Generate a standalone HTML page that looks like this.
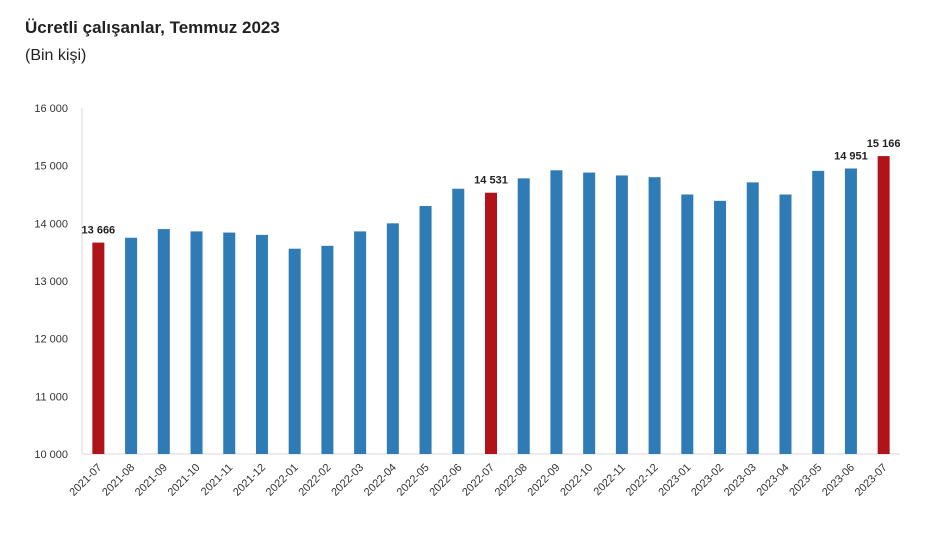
<!DOCTYPE html>
<html><head><meta charset="utf-8"><style>
body{margin:0;background:#fff;width:925px;height:533px;overflow:hidden;font-family:"Liberation Sans",sans-serif}
</style></head><body>
<svg width="925" height="533">
<text x="25" y="33" font-size="17" font-weight="bold" fill="#222">Ücretli çalışanlar, Temmuz 2023</text>
<text x="25" y="60" font-size="16" fill="#222">(Bin kişi)</text>
<g id="plot"></g>
</svg>
<script>
const categories=["2021-07","2021-08","2021-09","2021-10","2021-11","2021-12","2022-01","2022-02","2022-03","2022-04","2022-05","2022-06","2022-07","2022-08","2022-09","2022-10","2022-11","2022-12","2023-01","2023-02","2023-03","2023-04","2023-05","2023-06","2023-07"];
const values=[13666,13750,13900,13860,13840,13800,13560,13610,13860,14000,14300,14600,14531,14780,14920,14880,14830,14800,14500,14390,14710,14500,14910,14951,15166];
const highlighted=["2021-07","2022-07","2023-07"];
const labeled=["2021-07","2022-07","2023-06","2023-07"];
const yTicks=[10000,11000,12000,13000,14000,15000,16000];
const NS="http://www.w3.org/2000/svg";
const g=document.getElementById('plot');
const x0=82,x1=900,yTop=108,yBot=454,ymin=10000,ymax=16000;
const bw=(x1-x0)/categories.length;
function xs(i){return x0+bw*(i+0.5);}
function ys(v){return yBot-(v-ymin)/(ymax-ymin)*(yBot-yTop);}
function mk(t,a,txt){const e=document.createElementNS(NS,t);for(const k in a)e.setAttribute(k,a[k]);if(txt!==undefined)e.textContent=txt;g.appendChild(e);return e;}
yTicks.forEach(v=>{
 const t=mk('text',{x:68,y:ys(v)+4,'text-anchor':'end','font-size':11,fill:'#333'},String(v).replace(/\B(?=(\d{3})+$)/g,' '));
 
 
});
const ax=mk('line',{x1:x0,x2:x0,y1:yTop,y2:yBot,stroke:'#d9d9d9'});


const bx=mk('line',{x1:x0,x2:x1,y1:yBot,y2:yBot,stroke:'#d9d9d9'});


categories.forEach((c,i)=>{
 const v=values[i],hl=highlighted.includes(c);
 const r=mk('rect',{x:xs(i)-6,y:ys(v),width:12,height:yBot-ys(v),fill:hl?'#b01419':'#2e7bb6'});
 
 
 const cx=xs(i),cy=yBot+10;
 const t=mk('text',{x:cx+4,y:cy+4,'text-anchor':'end','font-size':11,fill:'#333',transform:`rotate(-45 ${cx+4} ${cy+4})`},c);
 
 
 if(labeled.includes(c)){
  const l=mk('text',{x:cx,y:ys(v)-9,'text-anchor':'middle','font-size':11,'font-weight':'bold',fill:'#222'},String(v).replace(/\B(?=(\d{3})+$)/g,' '));
  
  
 }
});
</script>
</body></html>
